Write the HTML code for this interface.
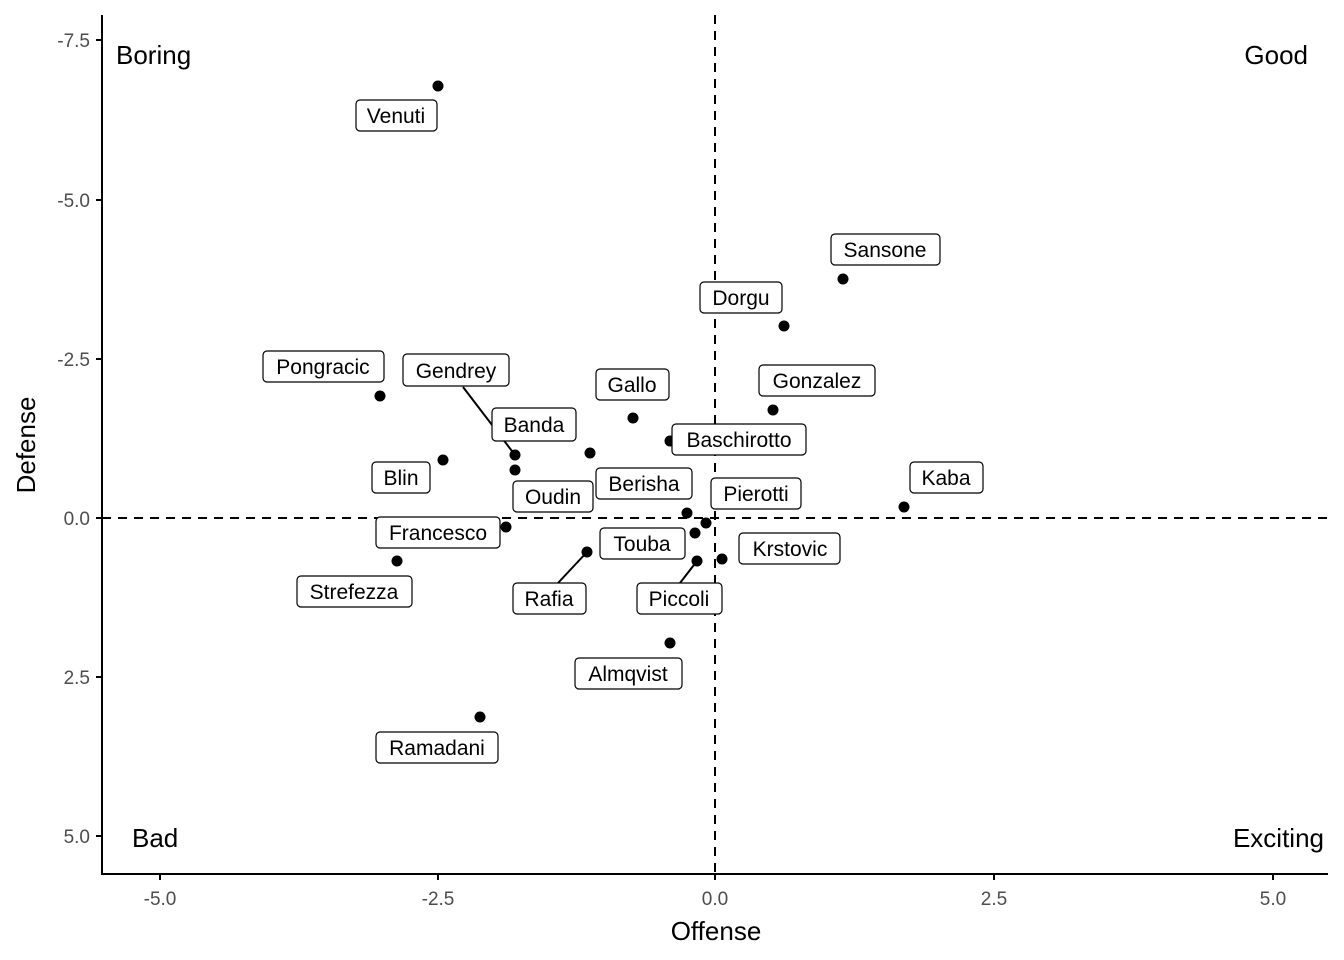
<!DOCTYPE html>
<html><head><style>body{margin:0;background:#fff}svg{display:block}</style></head><body>
<svg width="1344" height="960" xmlns="http://www.w3.org/2000/svg" font-family="Liberation Sans, sans-serif">
<rect width="1344" height="960" fill="#fff"/>
<line x1="715" y1="15" x2="715" y2="874" stroke="#000" stroke-width="2" stroke-dasharray="9,7"/>
<line x1="102" y1="518" x2="1328" y2="518" stroke="#000" stroke-width="2" stroke-dasharray="9,7"/>
<g stroke="#000" stroke-width="2">
<line x1="463" y1="387" x2="515" y2="455"/>
<line x1="558" y1="583" x2="587" y2="552"/>
<line x1="680" y1="583" x2="697" y2="561"/>
</g>
<g fill="#000">
<circle cx="438" cy="86" r="5.5"/><circle cx="843" cy="279" r="5.5"/><circle cx="784" cy="326" r="5.5"/>
<circle cx="773" cy="410" r="5.5"/><circle cx="380" cy="396" r="5.5"/><circle cx="633" cy="418" r="5.5"/>
<circle cx="670" cy="441" r="5.5"/><circle cx="590" cy="453" r="5.5"/><circle cx="515" cy="455" r="5.5"/>
<circle cx="515" cy="470" r="5.5"/><circle cx="443" cy="460" r="5.5"/><circle cx="904" cy="507" r="5.5"/>
<circle cx="687" cy="513" r="5.5"/><circle cx="706" cy="523" r="5.5"/><circle cx="506" cy="527" r="5.5"/>
<circle cx="695" cy="533" r="5.5"/><circle cx="587" cy="552" r="5.5"/><circle cx="697" cy="561" r="5.5"/>
<circle cx="722" cy="559" r="5.5"/><circle cx="397" cy="561" r="5.5"/><circle cx="670" cy="643" r="5.5"/>
<circle cx="480" cy="717" r="5.5"/>
</g>
<g font-size="21" text-anchor="middle">
<g fill="#fff" stroke="#000" stroke-width="1.2">
<rect x="356" y="100" width="81" height="31" rx="4"/>
<rect x="831" y="234" width="109" height="31" rx="4"/>
<rect x="700" y="282" width="82" height="31" rx="4"/>
<rect x="759" y="365" width="116" height="31" rx="4"/>
<rect x="263" y="351" width="121" height="31" rx="4"/>
<rect x="403" y="354" width="106" height="32" rx="4"/>
<rect x="596" y="369" width="73" height="31" rx="4"/>
<rect x="492" y="408" width="84" height="33" rx="4"/>
<rect x="672" y="424" width="134" height="31" rx="4"/>
<rect x="372" y="462" width="58" height="31" rx="4"/>
<rect x="596" y="468" width="96" height="31" rx="4"/>
<rect x="513" y="481" width="80" height="31" rx="4"/>
<rect x="910" y="462" width="73" height="31" rx="4"/>
<rect x="711" y="478" width="90" height="31" rx="4"/>
<rect x="376" y="517" width="124" height="31" rx="4"/>
<rect x="600" y="528" width="85" height="31" rx="4"/>
<rect x="739" y="533" width="101" height="31" rx="4"/>
<rect x="513" y="583" width="73" height="31" rx="4"/>
<rect x="637" y="583" width="85" height="31" rx="4"/>
<rect x="297" y="576" width="115" height="31" rx="4"/>
<rect x="575" y="658" width="107" height="31" rx="4"/>
<rect x="376" y="732" width="122" height="31" rx="4"/>
</g>
<text x="396" y="123">Venuti</text><text x="885" y="257">Sansone</text><text x="741" y="305">Dorgu</text>
<text x="817" y="388">Gonzalez</text><text x="323" y="374">Pongracic</text><text x="456" y="378">Gendrey</text>
<text x="632" y="392">Gallo</text><text x="534" y="432">Banda</text><text x="739" y="447">Baschirotto</text>
<text x="401" y="485">Blin</text><text x="644" y="491">Berisha</text><text x="553" y="504">Oudin</text>
<text x="946" y="485">Kaba</text><text x="756" y="501">Pierotti</text><text x="438" y="540">Francesco</text>
<text x="642" y="551">Touba</text><text x="790" y="556">Krstovic</text><text x="549" y="606">Rafia</text>
<text x="679" y="606">Piccoli</text><text x="354" y="599">Strefezza</text><text x="628" y="681">Almqvist</text>
<text x="437" y="755">Ramadani</text>
</g>
<g font-size="26">
<text x="116" y="64">Boring</text><text x="1308" y="64" text-anchor="end">Good</text>
<text x="132" y="847">Bad</text><text x="1324" y="847" text-anchor="end">Exciting</text>
</g>
<g stroke="#000" stroke-width="2">
<line x1="102" y1="15" x2="102" y2="875"/><line x1="101" y1="874" x2="1328" y2="874"/>
<line x1="96" y1="40" x2="102" y2="40"/><line x1="96" y1="200" x2="102" y2="200"/><line x1="96" y1="359" x2="102" y2="359"/>
<line x1="96" y1="518" x2="102" y2="518"/><line x1="96" y1="677" x2="102" y2="677"/><line x1="96" y1="836" x2="102" y2="836"/>
<line x1="160" y1="874" x2="160" y2="880"/><line x1="438" y1="874" x2="438" y2="880"/><line x1="715" y1="874" x2="715" y2="880"/>
<line x1="994" y1="874" x2="994" y2="880"/><line x1="1273" y1="874" x2="1273" y2="880"/>
</g>
<g font-size="19" fill="#4d4d4d" text-anchor="end">
<text x="90" y="47">-7.5</text><text x="90" y="207">-5.0</text><text x="90" y="366">-2.5</text>
<text x="90" y="525">0.0</text><text x="90" y="684">2.5</text><text x="90" y="843">5.0</text>
</g>
<g font-size="19" fill="#4d4d4d" text-anchor="middle">
<text x="160" y="905">-5.0</text><text x="438" y="905">-2.5</text><text x="715" y="905">0.0</text>
<text x="994" y="905">2.5</text><text x="1273" y="905">5.0</text>
</g>
<text x="716" y="940" font-size="26" text-anchor="middle">Offense</text>
<text transform="translate(35,445) rotate(-90)" font-size="26" text-anchor="middle">Defense</text>
</svg>
</body></html>
